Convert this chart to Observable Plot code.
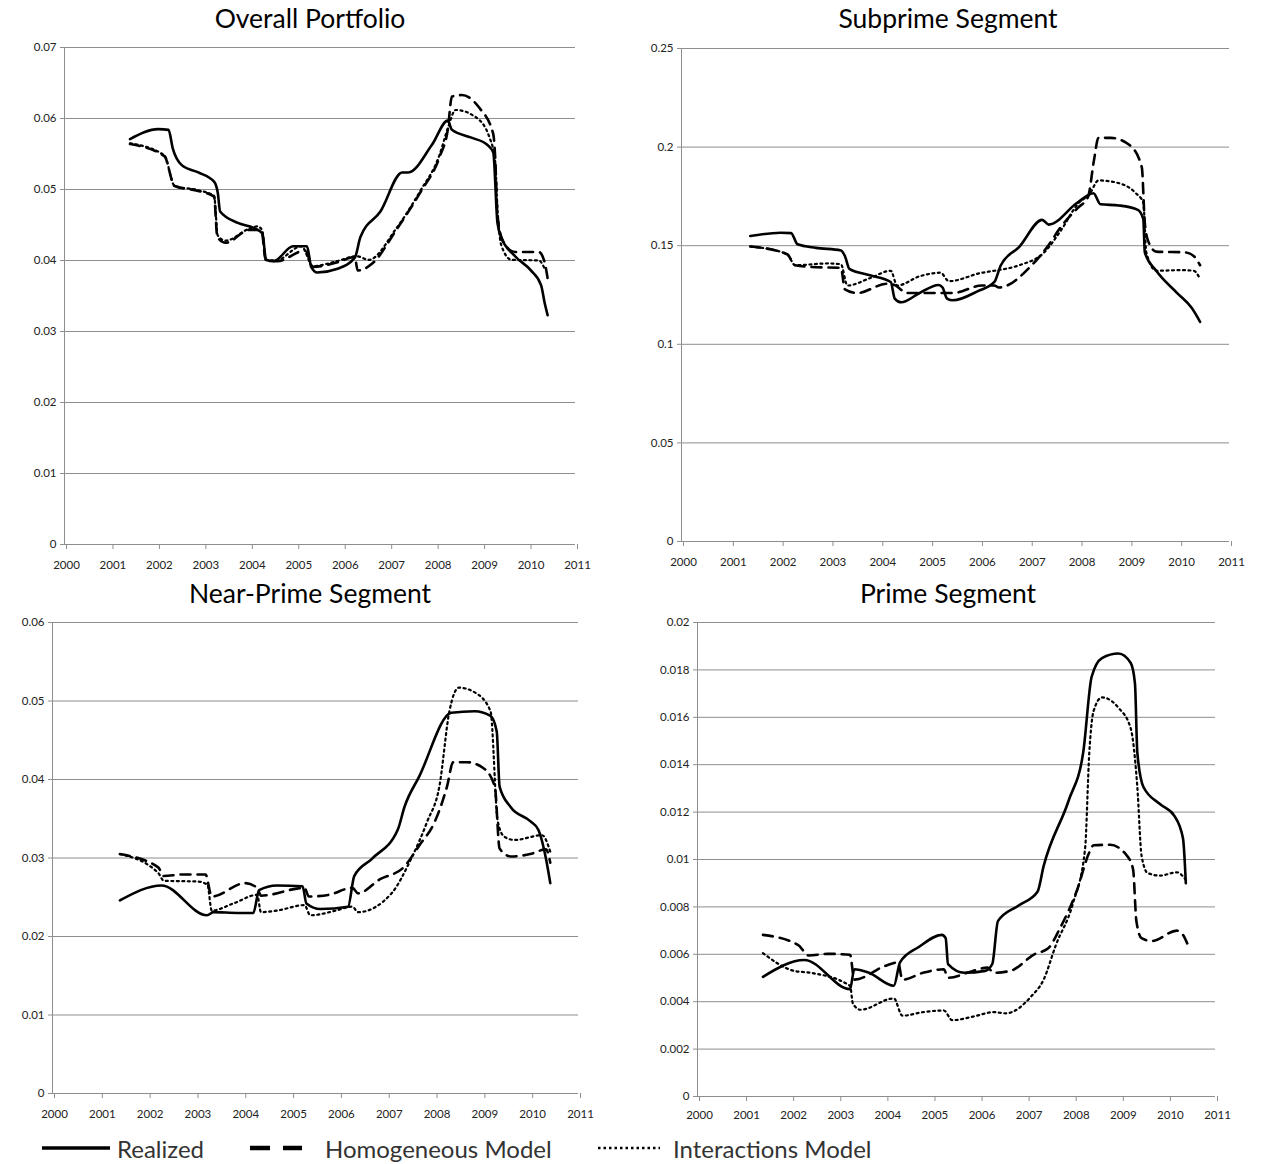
<!DOCTYPE html>
<html><head><meta charset="utf-8">
<script src="https://cdn.jsdelivr.net/npm/d3@7"></script>
<script src="https://cdn.jsdelivr.net/npm/@observablehq/plot@0.6"></script>
<style>
body{margin:0;background:#fff;}
#root{position:relative;width:1270px;height:1164px;background:#fff;font-family:Lato,"Open Sans",sans-serif;overflow:hidden;}
.title{position:absolute;font-size:26.5px;color:#000;transform:translate(-50%,-50%);white-space:nowrap;}
.panel{position:absolute;}
.leg{position:absolute;font-size:24px;color:#333;white-space:nowrap;transform:translateY(-50%);}
.sw{position:absolute;}
</style></head>
<body><div id="root"></div>
<script>
// ---------- data ----------
const xTicks = [2000,2001,2002,2003,2004,2005,2006,2007,2008,2009,2010,2011];
const overallTicks = [0,0.01,0.02,0.03,0.04,0.05,0.06,0.07];
const subprimeTicks = [0,0.05,0.1,0.15,0.2,0.25];
const nearPrimeTicks = [0,0.01,0.02,0.03,0.04,0.05,0.06];
const primeTicks = [0,0.002,0.004,0.006,0.008,0.01,0.012,0.014,0.016,0.018,0.02];
const titles = ["Overall Portfolio","Subprime Segment","Near-Prime Segment","Prime Segment"];
const seriesNames = ["Realized","Homogeneous Model","Interactions Model"];

// Overall portfolio
const overallRealized = [[2001.41,0.0571],[2002.02,0.0585],[2002.24,0.0584],[2002.33,0.0558],[2002.53,0.0534],[2002.88,0.0524],[2003.22,0.0511],[2003.30,0.0495],[2003.35,0.0469],[2003.73,0.0453],[2004.07,0.0446],[2004.26,0.0438],[2004.34,0.0401],[2004.50,0.0399],[2004.92,0.0420],[2005.22,0.0420],[2005.31,0.0391],[2005.44,0.0383],[2005.86,0.0388],[2006.25,0.0404],[2006.37,0.0433],[2006.80,0.0469],[2007.27,0.0524],[2007.40,0.0524],[2007.91,0.0563],[2008.25,0.0597],[2008.34,0.0584],[2008.76,0.0573],[2009.10,0.0563],[2009.23,0.0552],[2009.32,0.0453],[2009.40,0.0433],[2009.70,0.0406],[2010.04,0.0386],[2010.26,0.0365],[2010.34,0.0339],[2010.40,0.0323]];
const overallHomog = [[2001.41,0.0564],[2002.15,0.0547],[2002.37,0.0505],[2002.88,0.0498],[2003.22,0.0490],[2003.29,0.0433],[2003.47,0.0425],[2003.98,0.0443],[2004.24,0.0443],[2004.33,0.0401],[2004.58,0.0399],[2005.18,0.0414],[2005.35,0.0391],[2005.90,0.0398],[2006.25,0.0405],[2006.31,0.0386],[2006.63,0.0396],[2007.14,0.0443],[2007.65,0.0495],[2008.08,0.0547],[2008.25,0.0584],[2008.34,0.0631],[2008.55,0.0633],[2008.93,0.0615],[2009.23,0.0578],[2009.27,0.0547],[2009.32,0.0464],[2009.44,0.0427],[2009.70,0.0412],[2010.21,0.0412],[2010.32,0.0401],[2010.40,0.0375]];
const overallInter = [[2001.41,0.0565],[2002.15,0.0548],[2002.37,0.0505],[2002.88,0.0499],[2003.22,0.0491],[2003.30,0.0435],[2003.47,0.0428],[2003.98,0.0445],[2004.16,0.0448],[2004.26,0.0442],[2004.33,0.0401],[2004.55,0.0400],[2005.10,0.0420],[2005.35,0.0392],[2005.86,0.0399],[2006.29,0.0406],[2006.55,0.0401],[2007.14,0.0445],[2007.65,0.0497],[2008.08,0.0550],[2008.25,0.0586],[2008.42,0.0612],[2008.85,0.0602],[2009.15,0.0573],[2009.27,0.0540],[2009.32,0.0474],[2009.40,0.0422],[2009.62,0.0401],[2010.21,0.0400],[2010.34,0.0388]];

// Subprime
const subprimeRealized = [[2001.38,0.1549],[2001.99,0.1566],[2002.20,0.1564],[2002.33,0.1507],[2002.70,0.1489],[2003.20,0.1476],[2003.28,0.1448],[2003.37,0.1382],[2003.78,0.1350],[2004.20,0.1316],[2004.28,0.1232],[2004.41,0.1213],[2004.78,0.1260],[2005.16,0.1301],[2005.24,0.1288],[2005.33,0.1232],[2005.45,0.1223],[2005.95,0.1270],[2006.28,0.1316],[2006.41,0.1401],[2006.78,0.1494],[2007.24,0.1631],[2007.37,0.1607],[2007.95,0.1719],[2008.27,0.1766],[2008.41,0.1710],[2008.78,0.1704],[2009.16,0.1682],[2009.27,0.1635],[2009.30,0.1466],[2009.53,0.1373],[2009.95,0.1260],[2010.24,0.1185],[2010.41,0.1114]];
const subprimeHomog = [[2001.38,0.1496],[2002.12,0.1457],[2002.28,0.1401],[2002.70,0.1391],[2003.20,0.1388],[2003.28,0.1279],[2003.53,0.1260],[2004.12,0.1307],[2004.28,0.1300],[2004.53,0.1260],[2005.20,0.1260],[2005.45,0.1260],[2006.03,0.1298],[2006.28,0.1298],[2006.37,0.1288],[2007.03,0.1401],[2007.37,0.1504],[2007.62,0.1597],[2007.95,0.1691],[2008.16,0.1747],[2008.28,0.1934],[2008.37,0.2047],[2008.62,0.2047],[2009.00,0.2009],[2009.24,0.1897],[2009.30,0.1616],[2009.37,0.1522],[2009.53,0.1470],[2010.12,0.1466],[2010.28,0.1448],[2010.41,0.1401]];
const subprimeInter = [[2001.38,0.1496],[2002.12,0.1457],[2002.28,0.1401],[2002.95,0.1410],[2003.20,0.1406],[2003.33,0.1298],[2003.78,0.1335],[2004.20,0.1373],[2004.33,0.1298],[2004.78,0.1345],[2005.20,0.1363],[2005.37,0.1320],[2006.03,0.1363],[2006.28,0.1373],[2006.78,0.1401],[2007.28,0.1466],[2007.62,0.1579],[2007.95,0.1710],[2008.20,0.1766],[2008.37,0.1831],[2008.70,0.1822],[2009.12,0.1766],[2009.27,0.1719],[2009.33,0.1466],[2009.53,0.1373],[2010.03,0.1376],[2010.28,0.1373],[2010.41,0.1331]];

// Near-prime
const nearRealized = [[2001.41,0.0246],[2002.28,0.0265],[2003.23,0.0227],[2003.37,0.0231],[2003.87,0.0230],[2004.20,0.0230],[2004.32,0.0259],[2004.69,0.0265],[2005.23,0.0264],[2005.31,0.0242],[2005.60,0.0235],[2006.18,0.0238],[2006.31,0.0277],[2006.68,0.0299],[2007.22,0.0336],[2007.36,0.0365],[2007.67,0.0404],[2008.34,0.0485],[2008.83,0.0487],[2009.16,0.0481],[2009.29,0.0461],[2009.35,0.0391],[2009.58,0.0365],[2009.99,0.0347],[2010.16,0.0336],[2010.32,0.0299],[2010.41,0.0268]];
const nearHomog = [[2001.41,0.0305],[2002.21,0.0288],[2002.33,0.0277],[2002.71,0.0279],[2003.20,0.0279],[2003.33,0.0251],[2004.03,0.0268],[2004.28,0.0262],[2004.36,0.0252],[2005.27,0.0262],[2005.36,0.0251],[2005.77,0.0253],[2006.27,0.0262],[2006.39,0.0255],[2006.85,0.0273],[2007.34,0.0288],[2007.67,0.0316],[2008.00,0.0347],[2008.25,0.0391],[2008.38,0.0422],[2008.67,0.0422],[2009.00,0.0415],[2009.25,0.0391],[2009.35,0.0312],[2009.58,0.0302],[2009.99,0.0305],[2010.32,0.0311],[2010.41,0.0294]];
const nearInter = [[2001.41,0.0305],[2002.21,0.0281],[2002.33,0.0271],[2003.04,0.0270],[2003.24,0.0266],[2003.33,0.0233],[2003.78,0.0242],[2004.28,0.0253],[2004.36,0.0231],[2004.69,0.0233],[2005.27,0.0240],[2005.39,0.0227],[2005.93,0.0233],[2006.27,0.0238],[2006.39,0.0231],[2007.09,0.0255],[2007.50,0.0299],[2007.84,0.0347],[2008.09,0.0391],[2008.30,0.0487],[2008.50,0.0517],[2008.83,0.0511],[2009.16,0.0487],[2009.31,0.0347],[2009.45,0.0327],[2009.66,0.0323],[2010.24,0.0329],[2010.41,0.0308]];

// Prime
const primeRealized = [[2001.39,0.00505],[2002.27,0.00576],[2003.24,0.00453],[2003.33,0.00537],[2003.64,0.00522],[2004.17,0.00467],[2004.30,0.00566],[2004.70,0.00631],[2005.19,0.00682],[2005.27,0.00668],[2005.32,0.00559],[2005.67,0.00522],[2006.11,0.00530],[2006.26,0.00559],[2006.38,0.00740],[2006.82,0.00806],[2007.22,0.00864],[2007.35,0.00972],[2007.88,0.01248],[2008.19,0.01451],[2008.37,0.01771],[2008.59,0.01850],[2008.94,0.01869],[2009.20,0.01829],[2009.29,0.01742],[2009.34,0.01451],[2009.47,0.01306],[2009.82,0.01234],[2010.13,0.01183],[2010.31,0.01089],[2010.37,0.00900]];
const primeHomog = [[2001.39,0.00682],[2002.14,0.00639],[2002.36,0.00595],[2002.76,0.00602],[2003.24,0.00598],[2003.33,0.00493],[2004.00,0.00552],[2004.26,0.00566],[2004.35,0.00493],[2004.79,0.00522],[2005.23,0.00537],[2005.32,0.00501],[2005.85,0.00530],[2006.16,0.00544],[2006.29,0.00522],[2006.64,0.00530],[2007.17,0.00602],[2007.44,0.00624],[2007.70,0.00711],[2008.06,0.00871],[2008.32,0.01030],[2008.41,0.01060],[2008.76,0.01062],[2009.12,0.01016],[2009.25,0.00958],[2009.32,0.00740],[2009.43,0.00668],[2009.65,0.00656],[2010.18,0.00700],[2010.31,0.00682],[2010.40,0.00646]];
const primeInter = [[2001.39,0.00605],[2002.05,0.00530],[2002.40,0.00522],[2003.24,0.00467],[2003.30,0.00392],[2003.46,0.00366],[2004.17,0.00414],[2004.35,0.00341],[2004.79,0.00356],[2005.23,0.00363],[2005.41,0.00322],[2005.85,0.00337],[2006.29,0.00356],[2006.55,0.00351],[2007.08,0.00421],[2007.35,0.00493],[2007.61,0.00639],[2007.97,0.00813],[2008.23,0.01045],[2008.32,0.01451],[2008.41,0.01626],[2008.59,0.01684],[2008.94,0.01640],[2009.20,0.01553],[2009.34,0.01306],[2009.43,0.01016],[2009.56,0.00943],[2009.82,0.00932],[2010.18,0.00946],[2010.37,0.00914]];

// ---------- drawing ----------
const styles = [
  {strokeWidth: 2.6, strokeDasharray: null},
  {strokeWidth: 2.6, strokeDasharray: "10,7"},
  {strokeWidth: 2.2, strokeDasharray: "2,3.5"}
];
const gridColor = "#8e8e8e";
const root = document.getElementById("root");

function panel(cfg) {
  const t = document.createElement("div");
  t.className = "title";
  t.style.left = cfg.titleX + "px";
  t.style.top = cfg.titleY + "px";
  t.textContent = cfg.title;
  root.appendChild(t);

  const ymax = cfg.ticks[cfg.ticks.length - 1];
  const marks = [
    Plot.gridY(cfg.ticks.slice(1), {stroke: gridColor, strokeOpacity: 1, strokeWidth: 1}),
    Plot.ruleY([0], {stroke: gridColor, strokeWidth: 1}),
    Plot.ruleX([2000], {stroke: gridColor, strokeWidth: 1}),
    Plot.axisX(xTicks, {tickSize: 5, tickPadding: cfg.xpad, tickFormat: d => String(d), stroke: gridColor, label: null, dx: 2}),
    Plot.axisY(cfg.ticks, {tickSize: 4, tickPadding: 4, tickFormat: d => String(d), stroke: gridColor, label: null})
  ];
  cfg.series.forEach((s, i) => {
    const st = styles[i];
    const o = {x: d => d[0], y: d => d[1], curve: "monotone-x", stroke: "#000", strokeWidth: st.strokeWidth, strokeLinejoin: "round"};
    if (st.strokeDasharray) o.strokeDasharray = st.strokeDasharray;
    marks.push(Plot.line(s, o));
  });
  const svg = Plot.plot({
    width: cfg.width, height: cfg.height,
    marginLeft: cfg.ml, marginRight: cfg.mr, marginTop: cfg.mt, marginBottom: cfg.mb,
    style: {fontFamily: "Lato, 'Open Sans', sans-serif", fontSize: "11.5px", color: "#222", background: "transparent", overflow: "visible"},
    x: {domain: [2000, 2011]},
    y: {domain: [0, ymax]},
    marks
  });
  const d = document.createElement("div");
  d.className = "panel";
  d.style.left = cfg.left + "px";
  d.style.top = cfg.top + "px";
  d.appendChild(svg);
  root.appendChild(d);
}

panel({title: titles[0], titleX: 310, titleY: 18, ticks: overallTicks,
  series: [overallRealized, overallHomog, overallInter],
  left: 0, top: 35, width: 600, height: 545, ml: 64, mr: 25, mt: 12, mb: 36, xpad: 11});
panel({title: titles[1], titleX: 948, titleY: 18, ticks: subprimeTicks,
  series: [subprimeRealized, subprimeHomog, subprimeInter],
  left: 620, top: 35, width: 640, height: 545, ml: 61, mr: 31, mt: 13, mb: 39, xpad: 11});
panel({title: titles[2], titleX: 310, titleY: 593, ticks: nearPrimeTicks,
  series: [nearRealized, nearHomog, nearInter],
  left: 0, top: 610, width: 600, height: 515, ml: 52, mr: 22, mt: 12, mb: 32, xpad: 11});
panel({title: titles[3], titleX: 948, titleY: 593, ticks: primeTicks,
  series: [primeRealized, primeHomog, primeInter],
  left: 620, top: 610, width: 640, height: 515, ml: 77, mr: 45, mt: 12, mb: 29, xpad: 9});

// ---------- legend ----------
const legY = 1148;
const legItems = [
  {x1: 42, x2: 110, tx: 117, w: 3.5, dash: null},
  {x1: 250, x2: 302, tx: 325, w: 4.5, dash: "20,13"},
  {x1: 598, x2: 660, tx: 673, w: 2.5, dash: "2.5,3"}
];
legItems.forEach((it, i) => {
  const ns = "http://www.w3.org/2000/svg";
  const s = document.createElementNS(ns, "svg");
  s.setAttribute("class", "sw");
  s.setAttribute("width", it.x2 - it.x1);
  s.setAttribute("height", 10);
  s.style.left = it.x1 + "px";
  s.style.top = (legY - 5) + "px";
  const l = document.createElementNS(ns, "line");
  l.setAttribute("x1", 0); l.setAttribute("x2", it.x2 - it.x1);
  l.setAttribute("y1", 5); l.setAttribute("y2", 5);
  l.setAttribute("stroke", "#000");
  l.setAttribute("stroke-width", it.w);
  if (it.dash) l.setAttribute("stroke-dasharray", it.dash);
  s.appendChild(l);
  root.appendChild(s);
  const t = document.createElement("div");
  t.className = "leg";
  t.style.left = it.tx + "px";
  t.style.top = legY + "px";
  t.textContent = seriesNames[i];
  root.appendChild(t);
});
</script>
</body></html>
